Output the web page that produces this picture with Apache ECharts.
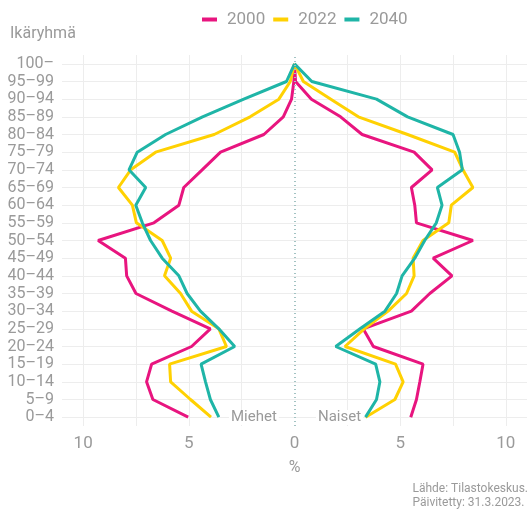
<!DOCTYPE html>
<html>
<head>
<meta charset="utf-8">
<script src="https://cdn.jsdelivr.net/npm/echarts@6/dist/echarts.min.js"></script>
<style>
  html, body { margin: 0; padding: 0; background: #fff; }
  #chart { width: 530px; height: 513px; }
</style>
</head>
<body>
<div id="chart"></div>
<script>
// ikäryhmät alhaalta ylös
const ages = ['0–4', '5–9', '10–14', '15–19', '20–24', '25–29', '30–34', '35–39', '40–44', '45–49',
  '50–54', '55–59', '60–64', '65–69', '70–74', '75–79', '80–84', '85–89', '90–94', '95–99', '100–']
const years = ['2000', '2022', '2040']

// miehet negatiivisina (%)
const men2000 = [-5.03, -6.7, -7.0, -6.76, -4.87, -3.98, -5.8, -7.5, -7.94, -8.0, -9.29, -6.65, -5.47, -5.24, -4.37, -3.5, -1.45, -0.53, -0.14, -0.03, 0]
const men2022 = [-3.95, -4.92, -5.86, -5.91, -3.22, -3.58, -4.87, -5.39, -6.15, -5.86, -6.26, -7.48, -7.67, -8.33, -7.75, -6.57, -3.8, -2.1, -0.74, -0.2, 0]
const men2040 = [-3.58, -3.98, -4.21, -4.42, -2.83, -3.58, -4.45, -5.08, -5.47, -6.26, -6.81, -7.2, -7.51, -7.04, -7.83, -7.44, -6.1, -4.35, -2.4, -0.38, 0]
const women2000 = [5.5, 5.77, 5.93, 6.08, 3.73, 3.25, 5.53, 6.4, 7.45, 6.56, 8.44, 5.77, 5.69, 5.53, 6.51, 5.66, 3.2, 2.18, 0.8, 0.05, 0]
const women2022 = [3.36, 4.75, 5.14, 4.78, 2.39, 3.3, 4.43, 5.3, 5.66, 5.61, 6.08, 7.3, 7.42, 8.44, 7.97, 7.58, 5.35, 3.02, 1.72, 0.42, 0]
const women2040 = [3.36, 3.88, 4.04, 3.84, 1.95, 3.1, 4.28, 4.83, 5.09, 5.69, 6.16, 6.71, 6.98, 6.76, 7.94, 7.81, 7.5, 5.35, 3.88, 0.82, 0]

const xGridValues = [-10, -7.5, -5, -2.5, 2.5, 5, 7.5, 10]
const colors = ['#e8157f', '#ffd102', '#1fb5a7']
const textGray = '#9a9a9a'
const font = 'Roboto'

const chart = echarts.init(document.getElementById('chart'))

function lineSeries(name, data, color) {
  return {
    name: name,
    type: 'line',
    data: data,
    symbol: 'none',
    z: 3,
    lineStyle: { color: color, width: 3 },
    itemStyle: { color: color }
  }
}

const gridLines = [].concat(
  ages.map((a) => ({ yAxis: a })),
  xGridValues.map((v) => ({ xAxis: v }))
)

chart.setOption({
  animation: false,
  textStyle: { fontFamily: font },
  color: colors,
  legend: {
    data: years,
    top: 6,
    left: 197,
    icon: 'rect',
    itemWidth: 15,
    itemHeight: 4,
    itemGap: 8,
    textStyle: { color: textGray, fontSize: 17, fontFamily: font, padding: [0, 0, 0, 5] }
  },
  grid: { left: 62, right: 1, top: 55, bottom: 87 },
  xAxis: {
    type: 'value',
    min: -11,
    max: 11,
    interval: 1,
    name: '%',
    nameLocation: 'middle',
    nameGap: 34,
    nameTextStyle: { color: textGray, fontSize: 16 },
    axisLine: { show: false },
    axisTick: { show: false },
    splitLine: { show: false },
    axisLabel: {
      color: textGray,
      fontSize: 17,
      margin: 9,
      formatter: (v) => (v % 5 === 0 ? String(Math.abs(v)) : '')
    }
  },
  yAxis: {
    type: 'category',
    data: ages,
    axisLine: { show: false },
    axisTick: { show: false },
    splitLine: { show: false },
    axisLabel: { color: textGray, fontSize: 16, margin: 8, interval: 0 }
  },
  graphic: [
    { type: 'text', left: 10, top: 26, style: { text: 'Ikäryhmä', fill: textGray, fontSize: 16, fontFamily: font } },
    {
      type: 'text', left: 229, top: 410, z: 100,
      style: { text: 'Miehet', fill: textGray, fontSize: 15, fontFamily: font, backgroundColor: '#fff', padding: [0, 2] }
    },
    {
      type: 'text', left: 316, top: 410, z: 100,
      style: { text: 'Naiset', fill: textGray, fontSize: 15, fontFamily: font, backgroundColor: '#fff', padding: [0, 2] }
    },
    {
      type: 'text', right: 2, top: 482,
      style: { text: 'Lähde: Tilastokeskus.\nPäivitetty: 31.3.2023.', fill: textGray, fontSize: 12, lineHeight: 14, align: 'right', fontFamily: font }
    }
  ],
  series: [
    {
      type: 'line',
      data: [],
      silent: true,
      markLine: {
        silent: true,
        symbol: 'none',
        z: 1,
        label: { show: false },
        lineStyle: { color: '#ededed', width: 1, type: 'solid' },
        data: gridLines
      }
    },
    {
      type: 'line',
      data: [],
      silent: true,
      markLine: {
        silent: true,
        symbol: 'none',
        z: 4,
        label: { show: false },
        lineStyle: { color: '#a3c3c3', width: 2, type: [1, 3] },
        data: [{ xAxis: 0 }]
      }
    },
    lineSeries('2000', men2000, colors[0]),
    lineSeries('2000', women2000, colors[0]),
    lineSeries('2022', men2022, colors[1]),
    lineSeries('2022', women2022, colors[1]),
    lineSeries('2040', men2040, colors[2]),
    lineSeries('2040', women2040, colors[2])
  ]
})
</script>
</body>
</html>
